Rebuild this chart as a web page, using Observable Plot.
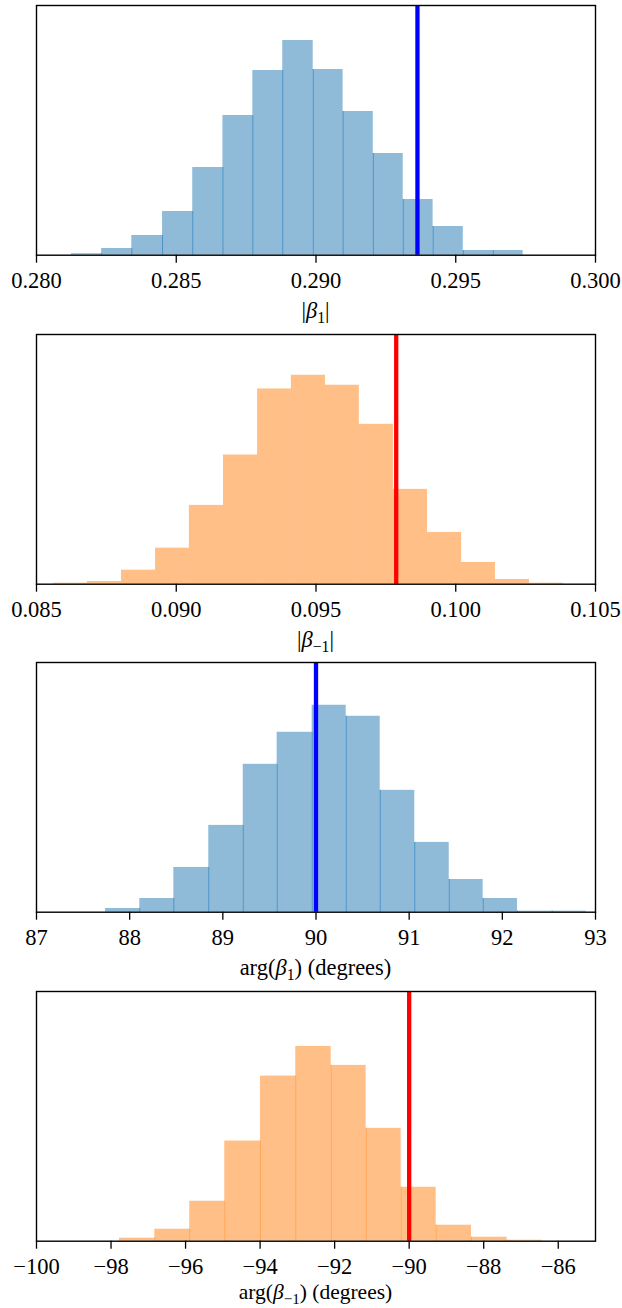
<!DOCTYPE html>
<html>
<head>
<meta charset="utf-8">
<script src="https://cdn.jsdelivr.net/npm/d3@7"></script>
<script src="https://cdn.jsdelivr.net/npm/@observablehq/plot@0.6"></script>
<style>
  html, body { margin: 0; padding: 0; background: #fff; }
  body { width: 622px; }
  .label {
    height: 28.67px; line-height: 22px; box-sizing: border-box;
    padding-left: 36px; padding-right: 27px; text-align: center;
    font-family: "Liberation Serif", "DejaVu Serif", serif; font-size: 22.5px; color: #000;
    white-space: nowrap;
  }
  .label.last { position: relative; top: -5px; font-size: 21.5px; }
  .label sub { font-size: 70%; vertical-align: -0.3em; line-height: 0; }
  svg { display: block; }
</style>
</head>
<body>
<div id="charts"></div>
<script>
// ---- Panel 1: |beta_1| ----
const edges1 = [0.28125, 0.28233, 0.28341, 0.28451, 0.28559, 0.28667, 0.28774, 0.28881, 0.28990, 0.29097, 0.29205, 0.29312, 0.29419, 0.29527, 0.29634, 0.29741];
const counts1 = [1.5, 6.7, 19.7, 43.7, 87.7, 139.7, 184.7, 214.7, 185.7, 143.7, 101.7, 55.7, 28.7, 4.7, 4.7];
const truth1 = 0.29363;
const ticks1 = [0.280, 0.285, 0.290, 0.295, 0.300];
const domain1 = [0.280, 0.300];

// ---- Panel 2: |beta_-1| ----
const edges2 = [0.08561, 0.08682, 0.08804, 0.08926, 0.09047, 0.09169, 0.09291, 0.09412, 0.09534, 0.09655, 0.09777, 0.09899, 0.10021, 0.10142, 0.10264, 0.10385];
const counts2 = [1, 2.7, 14, 36, 78.7, 129, 195, 208.7, 198.7, 159.7, 94.7, 51.7, 21.7, 4.7, 1];
const truth2 = 0.09787;
const ticks2 = [0.085, 0.090, 0.095, 0.100, 0.105];
const domain2 = [0.085, 0.105];

// ---- Panel 3: arg(beta_1) ----
const edges3 = [87.741, 88.109, 88.474, 88.849, 89.219, 89.583, 89.959, 90.324, 90.689, 91.060, 91.430, 91.794, 92.163, 92.535, 92.900];
const counts3 = [3.7, 13.7, 44.7, 86.7, 147.7, 179.7, 206.7, 195.7, 121.7, 69.7, 32.7, 13.7, 1, 1];
const truth3 = 90.0;
const ticks3 = [87, 88, 89, 90, 91, 92, 93];
const domain3 = [87, 93];

// ---- Panel 4: arg(beta_-1) ----
const edges4 = [-97.773, -96.826, -95.887, -94.948, -93.990, -93.043, -92.093, -91.154, -90.215, -89.276, -88.328, -87.371, -86.431];
const counts4 = [3, 12, 40, 100.3, 165.3, 195, 176, 113, 54, 16, 4, 1];
const truth4 = -90.0;
const ticks4 = [-100, -98, -96, -94, -92, -90, -88, -86];
const domain4 = [-100, -85];

const yMax = [249.7, 249.4, 249.4, 250];

const FONT = '"Liberation Serif", "DejaVu Serif", serif';

const panels = [
  {edges: edges1, counts: counts1, truth: truth1, ticks: ticks1, domain: domain1, fmt: ".3f",
   fill: "#1f77b4", edge: "#4a93c6", edgeW: 1, line: "#0000ff",
   label: '|<i>β</i><sub>1</sub>|'},
  {edges: edges2, counts: counts2, truth: truth2, ticks: ticks2, domain: domain2, fmt: ".3f",
   fill: "#ff7f0e", edge: null, edgeW: 0, line: "#ff0000",
   label: '|<i>β</i><sub>−1</sub>|'},
  {edges: edges3, counts: counts3, truth: truth3, ticks: ticks3, domain: domain3, fmt: "d",
   fill: "#1f77b4", edge: "#4a93c6", edgeW: 1, line: "#0000ff",
   label: 'arg(<i>β</i><sub>1</sub>) (degrees)'},
  {edges: edges4, counts: counts4, truth: truth4, ticks: ticks4, domain: domain4, fmt: "d",
   fill: "#ff7f0e", edge: "#ffa85a", edgeW: 1, line: "#ff0000",
   label: 'arg(<i>β</i><sub>−1</sub>) (degrees)'}
];

const container = document.getElementById("charts");
panels.forEach((p, k) => {
  const bins = p.counts.map((c, i) => ({x1: p.edges[i], x2: p.edges[i + 1], y: c}));
  const seams = p.counts.slice(1).map((c, i) => ({x: p.edges[i + 1], y: Math.min(c, p.counts[i])}));
  const marks = [
    Plot.rectY(bins, {x1: "x1", x2: "x2", y: "y", fill: p.fill, fillOpacity: 0.5, inset: 0})
  ];
  if (p.edge) marks.push(Plot.ruleX(seams, {x: "x", y1: 0, y2: "y", stroke: p.edge, strokeWidth: p.edgeW}));
  marks.push(Plot.ruleX([p.truth], {stroke: p.line, strokeWidth: 4.3}));
  marks.push(Plot.frame({stroke: "#000", strokeWidth: 1.4}));
  marks.push(Plot.axisX({ticks: p.ticks, tickFormat: d3.format(p.fmt), tickSize: 8, tickPadding: 9,
    strokeWidth: 1.3, label: null, fontSize: 22.5, fontFamily: FONT}));
  const chart = Plot.plot({
    width: 622, height: 300,
    marginLeft: 36, marginRight: 27, marginTop: 5, marginBottom: 45.3,
    style: {fontFamily: FONT, fontSize: "22.5px", color: "#000", background: "#fff", overflow: "visible"},
    x: {domain: p.domain},
    y: {domain: [0, yMax[k]], axis: null},
    marks
  });
  container.appendChild(chart);
  const lab = document.createElement("div");
  lab.className = "label" + (k === panels.length - 1 ? " last" : "");
  lab.innerHTML = p.label;
  container.appendChild(lab);
});
</script>
</body>
</html>
